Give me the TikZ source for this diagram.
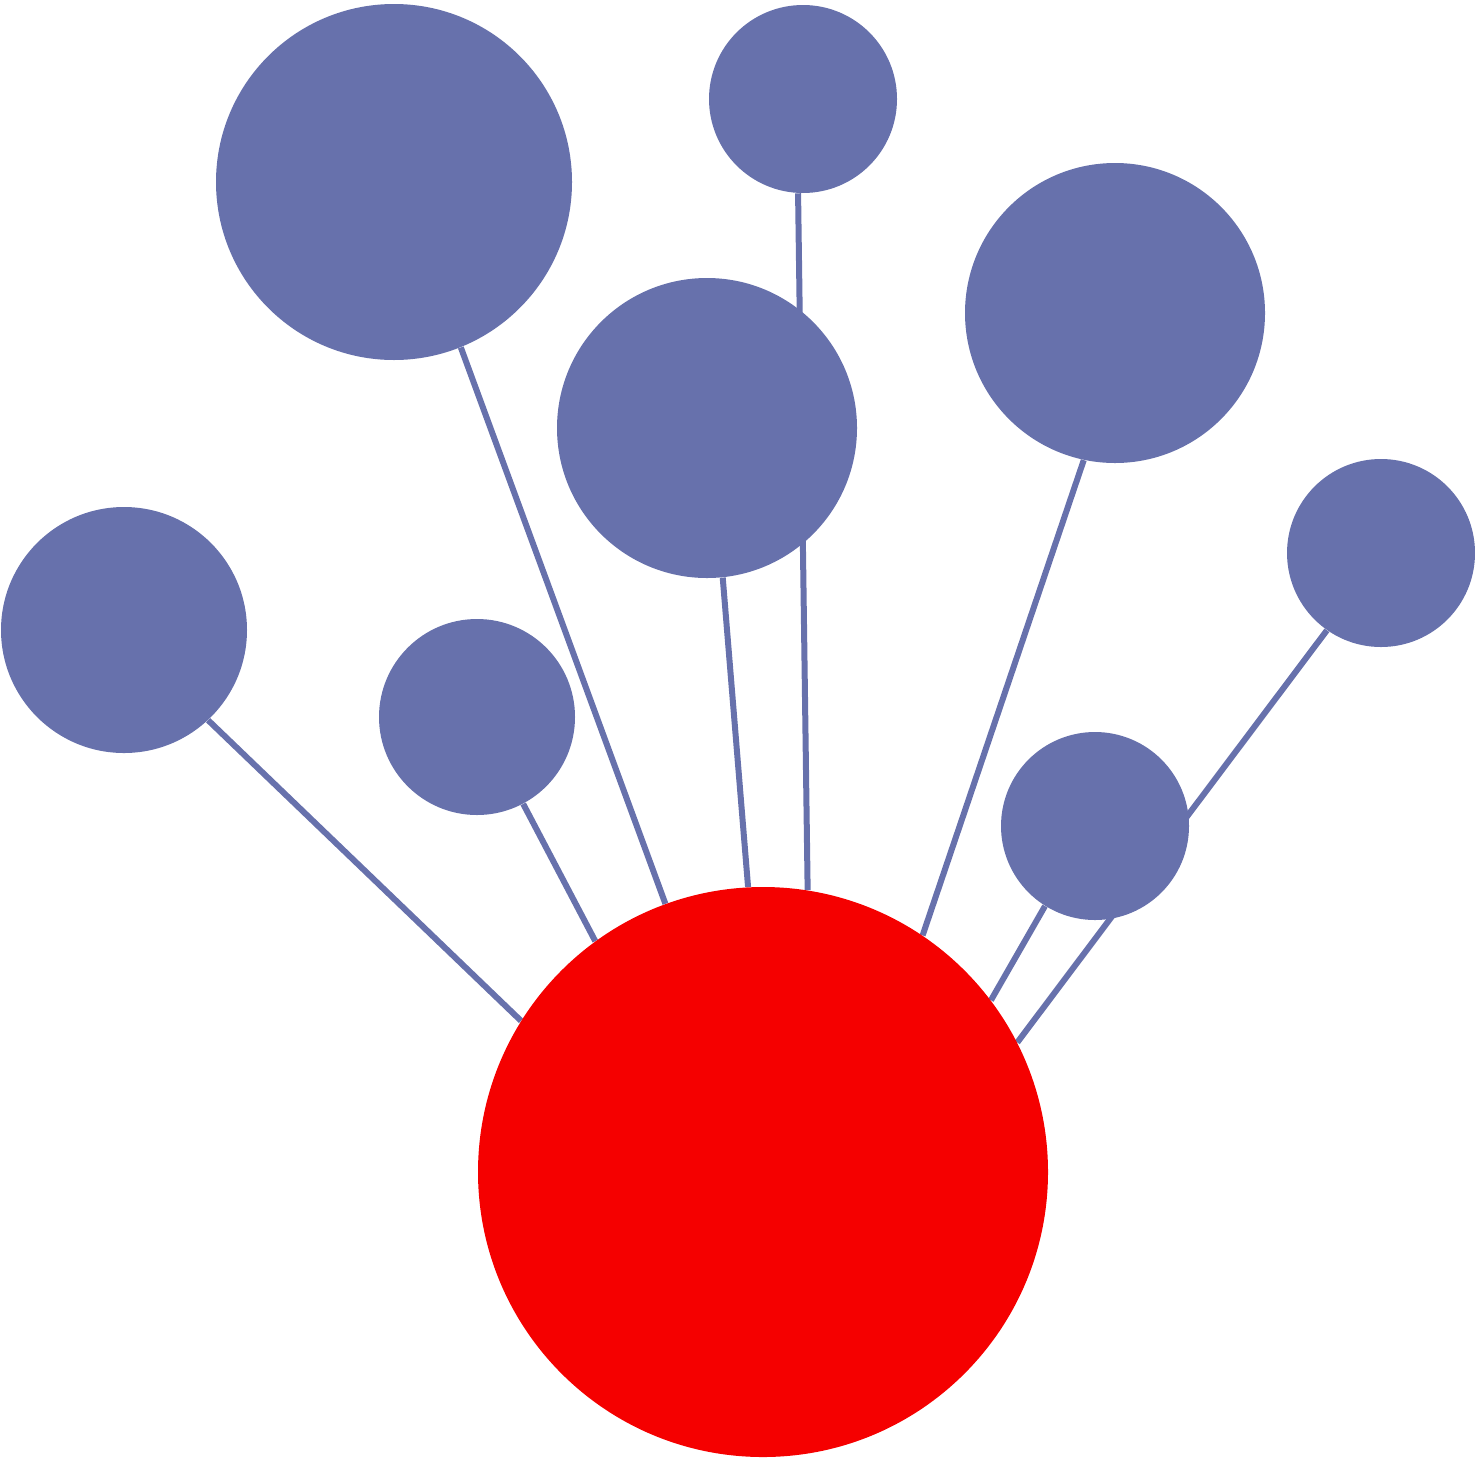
\documentclass[tikz,border=0pt]{standalone}
\usetikzlibrary{backgrounds}
\definecolor{nodeblue}{HTML}{6771AC}
\definecolor{nodered}{HTML}{F50000}
\tikzset{
  bluenode/.style={circle, fill=nodeblue, inner sep=0pt, draw=none},
  rednode/.style={circle, fill=nodered, inner sep=0pt, draw=none},
  link/.style={draw=nodeblue, line width=3pt}
}
\begin{document}
\begin{tikzpicture}[x=0.5pt,y=-0.5pt]
\useasboundingbox (0,0) rectangle (1475,1462);
\node[rednode, minimum size=285pt] (red) at (763,1172) {};
\node[bluenode, minimum size=178pt] (c1) at (394,182) {};
\node[bluenode, minimum size=94pt]  (c2) at (803,99) {};
\node[bluenode, minimum size=150pt] (c3) at (707,428) {};
\node[bluenode, minimum size=150pt] (c4) at (1115,313) {};
\node[bluenode, minimum size=94pt]  (c5) at (1381,553) {};
\node[bluenode, minimum size=123pt] (c6) at (124,630) {};
\node[bluenode, minimum size=98pt]  (c7) at (477,717) {};
\node[bluenode, minimum size=94pt]  (c8) at (1095,826) {};
\begin{scope}[on background layer]
  \draw[link] (c6.-47.9)  -- (red.148.8);
  \draw[link] (c7.-62.4)  -- (red.126.1);
  \draw[link] (c1.-68.0)  -- (red.110.9);
  \draw[link] (c3.-84.7)  -- (red.93.0);
  \draw[link] (c2.-93.7)  -- (red.81.4);
  \draw[link] (c4.-102.3) -- (red.56.5);
  \draw[link] (c5.-125.8) -- (red.27.0);
  \draw[link] (c8.-122.3) -- (red.37.4);
\end{scope}
\end{tikzpicture}
\end{document}
